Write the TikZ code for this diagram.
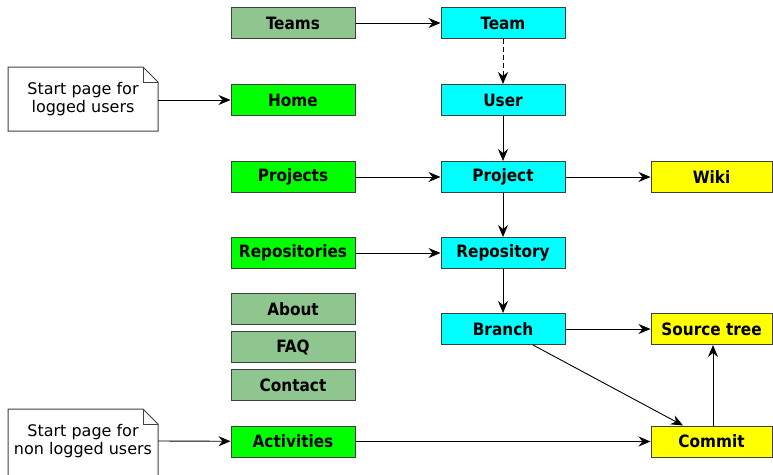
\documentclass[tikz,border=0pt]{standalone}
\usepackage{fontspec}
\setmainfont{DejaVu Sans}
\newfontfamily\condfont{DejaVu Sans Condensed}
\usetikzlibrary{arrows.meta}
\definecolor{grayg}{HTML}{8FC68F}
\definecolor{brgreen}{HTML}{00FF00}
\definecolor{cyanb}{HTML}{00FFFF}
\definecolor{yell}{HTML}{FFFF00}
\definecolor{bord}{HTML}{404040}
\begin{document}
\begin{tikzpicture}[x=1pt,y=-1pt,
  box/.style={draw=bord,line width=1pt,minimum width=124pt,minimum height=31pt,inner sep=0pt,
    font=\condfont\fontsize{17pt}{18pt}\selectfont\bfseries},
  gbox/.style={box,fill=grayg},
  lbox/.style={box,fill=brgreen},
  cbox/.style={box,fill=cyanb},
  ybox/.style={box,fill=yell,minimum width=121pt},
  conn/.style={line width=0.9pt,-{Stealth[length=12pt,width=10pt,inset=4pt]}},
  notetext/.style={align=center,font=\fontsize{16pt}{18pt}\selectfont}
]
\useasboundingbox (0,0) rectangle (773,474);
\fill[white] (0,0) rectangle (773,474);

% notes
\draw[bord,line width=1pt,fill=white] (8,67) -- (143,67) -- (158,82) -- (158,131) -- (8,131) -- cycle;
\draw[bord,line width=1pt] (143,67) -- (143,82) -- (158,82);
\node[notetext] (note1) at (83,99) {Start page for\\logged users};
\coordinate (n1e) at (158,100);

\draw[bord,line width=1pt,fill=white] (8,480) -- (8,409) -- (143,409) -- (158,424) -- (158,480);
\draw[bord,line width=1pt] (143,409) -- (143,424) -- (158,424);
\node[notetext] (note2) at (83,441) {Start page for\\non logged users};
\coordinate (n2e) at (158,441);

% left column
\node[gbox] (teams) at (293,23) {Teams};
\node[lbox] (home) at (293,100) {Home};
\node[lbox] (projects) at (293,177) {Projects};
\node[lbox] (repositories) at (293,253) {Repositories};
\node[gbox] (about) at (293,309) {About};
\node[gbox] (faq) at (293,347) {FAQ};
\node[gbox] (contact) at (293,385) {Contact};
\node[lbox] (activities) at (293,441.5) {Activities};

% middle column
\node[cbox] (team) at (503,23) {Team};
\node[cbox] (user) at (503,100) {User};
\node[cbox] (project) at (503,177) {Project};
\node[cbox] (repository) at (503,253) {Repository};
\node[cbox] (branch) at (503,329) {Branch};

% right column
\node[ybox] (wiki) at (711.5,177) {Wiki};
\node[ybox] (source) at (711.5,329) {Source tree};
\node[ybox] (commit) at (711.5,441.5) {Commit};

% connectors
\draw[conn] (teams) -- (team);
\draw[conn,dashed,dash pattern=on 5pt off 3pt] (team) -- (user);
\draw[conn] (user) -- (project);
\draw[conn] (n1e) -- (home);
\draw[conn] (projects) -- (project);
\draw[conn] (project) -- (wiki);
\draw[conn] (project) -- (repository);
\draw[conn] (repositories) -- (repository);
\draw[conn] (repository) -- (branch);
\draw[conn] (branch) -- (source);
\draw[conn] ([xshift=30pt]branch.south) -- ([xshift=-28.5pt]commit.north);
\draw[conn] ([xshift=1.5pt]commit.north) -- ([xshift=1.5pt]source.south);
\draw[conn] (n2e) -- (activities);
\draw[conn] (activities) -- (commit);
\end{tikzpicture}
\end{document}
